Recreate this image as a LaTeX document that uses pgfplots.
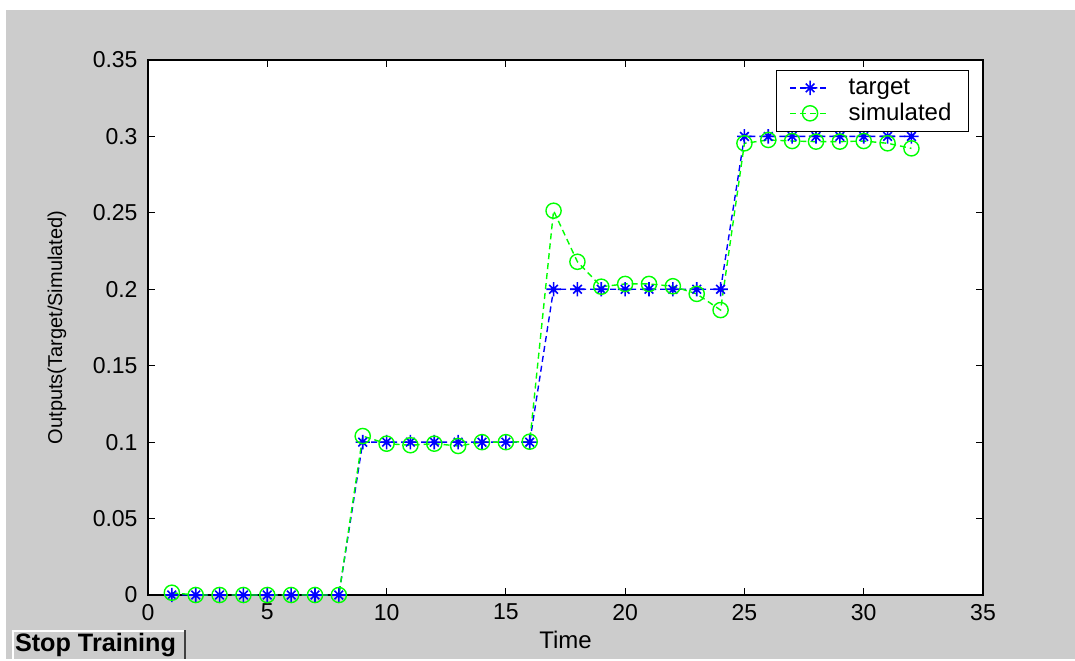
\documentclass[border=0pt]{standalone}
\usepackage{fontspec}
\setmainfont{Liberation Sans}
\usepackage{pgfplots}
\pgfplotsset{compat=1.18}
\definecolor{bg}{RGB}{204,204,204}
\definecolor{mblue}{RGB}{0,0,255}
\definecolor{mgreen}{RGB}{0,255,0}
\pgfdeclareplotmark{mstar}{%
  \pgfpathmoveto{\pgfqpoint{-\pgfplotmarksize}{0pt}}%
  \pgfpathlineto{\pgfqpoint{\pgfplotmarksize}{0pt}}%
  \pgfpathmoveto{\pgfqpoint{0pt}{-\pgfplotmarksize}}%
  \pgfpathlineto{\pgfqpoint{0pt}{\pgfplotmarksize}}%
  \pgfpathmoveto{\pgfqpoint{-0.6\pgfplotmarksize}{-0.6\pgfplotmarksize}}%
  \pgfpathlineto{\pgfqpoint{0.6\pgfplotmarksize}{0.6\pgfplotmarksize}}%
  \pgfpathmoveto{\pgfqpoint{-0.6\pgfplotmarksize}{0.6\pgfplotmarksize}}%
  \pgfpathlineto{\pgfqpoint{0.6\pgfplotmarksize}{-0.6\pgfplotmarksize}}%
  \pgfusepathqstroke}
\begin{document}
\begin{tikzpicture}
\fill[white] (0,0) rectangle (537.5pt,329.5pt);
\fill[bg] (3pt,0) rectangle (537.5pt,324.5pt);
\begin{axis}[
  at={(74pt,32pt)}, anchor=south west,
  scale only axis, width=417.5pt, height=267.5pt,
  xmin=0, xmax=35, ymin=0, ymax=0.35,
  xtick={0,5,10,15,20,25,30,35},
  xticklabels={0,5,10,15,20,25,30,35},
  ytick={0,0.05,0.1,0.15,0.2,0.25,0.3,0.35},
  yticklabels={0,0.05,0.1,0.15,0.2,0.25,0.3,0.35},
  /pgf/number format/assume math mode=true,
  tick align=inside, major tick length=3.5pt,
  axis background/.style={fill=white},
  axis line style={black, line width=0.6pt},
  every tick/.style={black, line width=0.6pt},
  ticklabel style={font=\fontsize{11.5}{13}\selectfont},
  xticklabel style={yshift=-1pt},
  yticklabel style={xshift=-1.7pt},
  xlabel={Time},
  xlabel style={at={(axis description cs:0.5,0)}, anchor=center, yshift=-22.5pt, font=\fontsize{12}{14}\selectfont},
  ylabel={Outputs(Target/Simulated)},
  ylabel style={at={(axis description cs:-0.109,0.5)}, anchor=center, font=\fontsize{10}{12}\selectfont},
  legend style={at={(1,1)}, anchor=north east, xshift=-7pt, yshift=-5pt,
    draw=black, line width=0.6pt, fill=white, font=\fontsize{12}{13}\selectfont,
    inner xsep=6.5pt, inner ysep=2pt, row sep=-1pt},
  legend cell align=left,
  legend image code/.code={\draw[mark repeat=2,mark phase=2,#1] plot coordinates {(0cm,0cm) (0.35cm,0cm) (0.7cm,0cm)};},
]
\addplot[mblue, densely dashed, line width=0.7pt, mark=mstar, mark size=3.6pt, mark options={solid, line width=0.8pt}]
coordinates {
(1,0)(2,0)(3,0)(4,0)(5,0)(6,0)(7,0)(8,0)
(9,0.1)(10,0.1)(11,0.1)(12,0.1)(13,0.1)(14,0.1)(15,0.1)(16,0.1)
(17,0.2)(18,0.2)(19,0.2)(20,0.2)(21,0.2)(22,0.2)(23,0.2)(24,0.2)
(25,0.3)(26,0.3)(27,0.3)(28,0.3)(29,0.3)(30,0.3)(31,0.3)(32,0.3)
};
\addlegendentry{\hspace{7pt}target}
\addplot[mgreen, densely dashed, line width=0.7pt, mark=o, mark size=3.8pt, mark options={solid, line width=0.7pt}]
coordinates {
(1,0.0015)(2,0)(3,0)(4,0)(5,0)(6,0)(7,0)(8,0)
(9,0.104)(10,0.099)(11,0.098)(12,0.099)(13,0.0975)(14,0.1)(15,0.1)(16,0.1003)
(17,0.2514)(18,0.218)(19,0.2017)(20,0.2035)(21,0.2035)(22,0.202)(23,0.197)(24,0.1864)
(25,0.2955)(26,0.2977)(27,0.297)(28,0.2966)(29,0.2966)(30,0.297)(31,0.2955)(32,0.2922)
};
\addlegendentry{\hspace{7pt}simulated\hspace{10.5pt}}
\end{axis}
\fill[bg] (6pt,0) rectangle (92.5pt,14.5pt);
\draw[white, line width=0.8pt] (6.4pt,0) -- (6.4pt,14.1pt) -- (92pt,14.1pt);
\draw[black!75, line width=1pt] (92.5pt,14.5pt) -- (92.5pt,0);
\node[anchor=west, inner sep=0pt, font=\bfseries\fontsize{12.6}{15}\selectfont] at (7.3pt,6.8pt) {Stop Training};
\end{tikzpicture}
\end{document}
